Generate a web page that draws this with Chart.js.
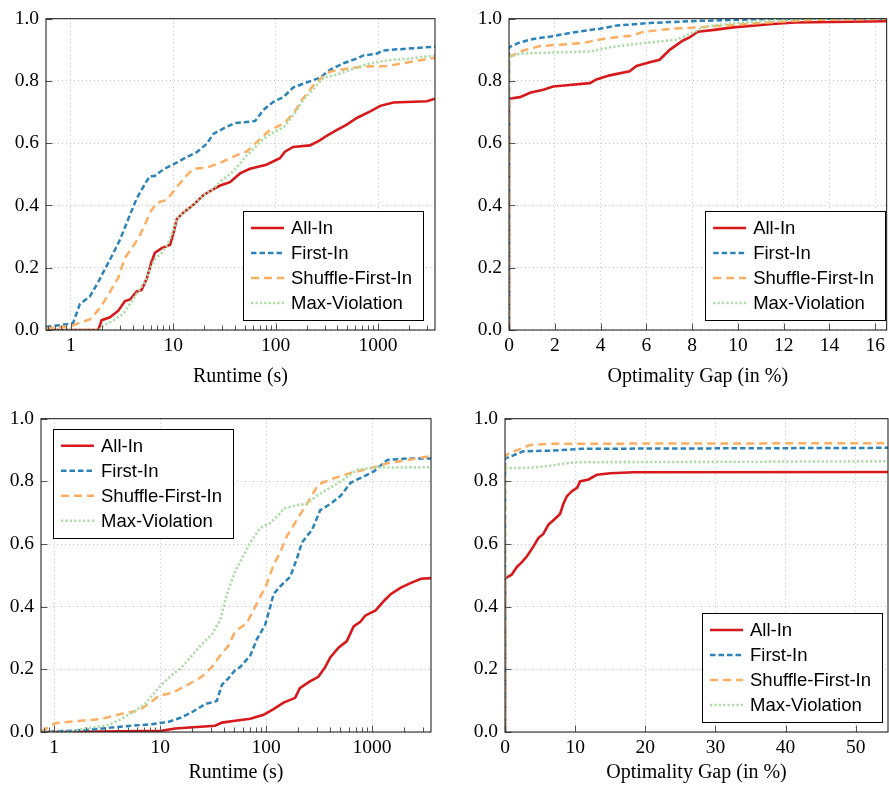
<!DOCTYPE html>
<html lang="en">
  <head>
    <meta charset="UTF-8" />
    <title>Runtime and optimality gap profiles</title>
    <script src="https://cdn.jsdelivr.net/npm/chart.js@4.4.0/dist/chart.umd.min.js"></script>
    <style>
      body {
        margin: 0;
        background: #fff;
      }
      #wrap {
        position: relative;
        width: 889px;
        height: 796px;
      }
      canvas {
        position: absolute;
      }
    </style>
  </head>
  <body>
    <div id="wrap">
      <canvas id="tl" width="445" height="400" style="left:0;top:0"></canvas>
      <canvas id="tr" width="444" height="400" style="left:445px;top:0"></canvas>
      <canvas id="bl" width="445" height="396" style="left:0;top:400px"></canvas>
      <canvas id="br" width="444" height="396" style="left:445px;top:400px"></canvas>
    </div>

    <script>
      const seriesNames = ["All-In", "First-In", "Shuffle-First-In", "Max-Violation"];
      const logTickLabels = [1, 10, 100, 1000];
      const yTickLabels = [0, 0.2, 0.4, 0.6, 0.8, 1];

      // top left: runtime (s), log scale
      const tlAllIn = [[0.57,0],[1.85,0],[1.99,0.031],[2.4,0.041],[2.9,0.062],[3.37,0.093],[3.78,0.098],[4.39,0.124],[4.9,0.129],[5.5,0.165],[6.1,0.217],[6.6,0.248],[7.7,0.263],[9.3,0.274],[10,0.31],[10.8,0.356],[12.5,0.377],[15.7,0.402],[19.6,0.433],[23.7,0.449],[28.6,0.464],[35.8,0.475],[44.8,0.503],[56,0.518],[81,0.531],[110,0.552],[123,0.573],[148,0.588],[216,0.593],[270,0.609],[315,0.624],[393,0.642],[495,0.66],[620,0.681],[838,0.702],[1050,0.72],[1413,0.731],[3000,0.735],[3600,0.743]];
      const tlFirstIn = [[0.57,0.01],[1.0,0.02],[1.05,0.023],[1.22,0.083],[1.53,0.108],[1.85,0.155],[2.23,0.206],[2.5,0.237],[3.0,0.289],[3.37,0.33],[3.78,0.371],[4.39,0.423],[5.3,0.47],[5.9,0.494],[6.6,0.495],[7.98,0.516],[10,0.532],[13.4,0.555],[16.9,0.571],[21.2,0.598],[24.6,0.63],[32,0.65],[40,0.665],[62.9,0.671],[75.8,0.707],[95,0.733],[119,0.748],[148,0.779],[200,0.795],[270,0.81],[340,0.836],[460,0.857],[620,0.872],[720,0.882],[980,0.888],[1120,0.898],[1770,0.903],[3600,0.91]];
      const tlShuffle = [[0.57,0.005],[1.0,0.012],[1.22,0.024],[1.53,0.034],[1.92,0.07],[2.4,0.122],[2.9,0.168],[3.37,0.232],[3.92,0.263],[4.54,0.294],[5.3,0.34],[5.9,0.377],[6.87,0.408],[8.6,0.418],[10.8,0.459],[13.4,0.495],[15.7,0.518],[21,0.521],[28.6,0.537],[41.7,0.562],[52,0.573],[70.5,0.614],[84.9,0.638],[123,0.666],[154,0.702],[179,0.738],[233,0.785],[280,0.81],[340,0.83],[530,0.841],[720,0.846],[1220,0.848],[1770,0.857],[3600,0.875]];
      const tlMaxViol = [[0.57,0],[1.9,0],[1.99,0.01],[2.59,0.031],[3.24,0.052],[3.92,0.093],[4.54,0.124],[5.3,0.155],[5.9,0.196],[6.6,0.227],[7.7,0.248],[8.9,0.279],[10,0.32],[10.8,0.356],[12.5,0.377],[15.7,0.402],[19.6,0.433],[24.6,0.454],[29.6,0.48],[37,0.505],[45,0.535],[52,0.56],[75.8,0.614],[95,0.635],[119,0.65],[154,0.697],[185,0.738],[233,0.774],[292,0.81],[393,0.82],[530,0.836],[838,0.857],[1310,0.867],[2060,0.872],[3600,0.882]];

      // top right: optimality gap (in %)
      const trAllIn = [[0,0],[0,0.743],[0.48,0.748],[0.92,0.762],[1.5,0.772],[1.93,0.782],[2.52,0.786],[3.53,0.793],[3.82,0.805],[4.4,0.818],[5.27,0.831],[5.57,0.848],[6.15,0.86],[6.58,0.868],[7.02,0.9],[7.31,0.915],[7.6,0.93],[7.89,0.94],[8.25,0.958],[9.05,0.965],[9.78,0.972],[11.5,0.983],[12.5,0.988],[16.5,0.992]];
      const trFirstIn = [[0,0],[0,0.908],[0.48,0.924],[1.06,0.935],[1.93,0.944],[2.8,0.956],[3.97,0.968],[4.7,0.978],[6.15,0.986],[8.3,0.993],[9.8,0.996],[11.4,1],[16.5,1]];
      const trShuffle = [[0,0],[0,0.877],[0.62,0.898],[1.35,0.912],[3.24,0.922],[4.26,0.937],[5.42,0.946],[5.86,0.958],[7.16,0.968],[8.3,0.972],[9.78,0.98],[11.8,0.99],[13.2,0.996],[16.5,1]];
      const trMaxViol = [[0,0],[0,0.877],[0.48,0.888],[1.79,0.891],[3.53,0.895],[4.4,0.908],[5.42,0.918],[6.44,0.926],[7.31,0.933],[8.03,0.955],[8.6,0.975],[9.78,0.985],[11.2,0.993],[13.2,1],[16.5,1]];

      // bottom left: runtime (s), log scale
      const blAllIn = [[0.75,0],[1.69,0.001],[10.3,0.004],[13.8,0.011],[33,0.02],[38.3,0.03],[51,0.036],[70.9,0.042],[94.5,0.055],[117.5,0.073],[146,0.094],[188,0.109],[208,0.14],[257,0.161],[311,0.176],[361,0.207],[403,0.238],[482,0.269],[578,0.29],[670,0.337],[775,0.352],[867,0.372],[1080,0.388],[1300,0.419],[1500,0.44],[1850,0.46],[2330,0.476],[2900,0.489],[3600,0.491]];
      const blFirstIn = [[0.75,0],[1.95,0.006],[2.8,0.011],[5,0.019],[8.3,0.025],[11.9,0.032],[16,0.047],[19.9,0.063],[26.6,0.089],[34.2,0.099],[38.3,0.151],[44,0.171],[51,0.197],[56.8,0.207],[70.9,0.244],[81.5,0.295],[97.9,0.342],[109,0.398],[117.5,0.44],[136,0.465],[169,0.496],[195,0.553],[218,0.605],[272,0.646],[324,0.708],[404,0.728],[505,0.754],[630,0.796],[783,0.811],[1040,0.832],[1390,0.868],[2140,0.873],[3600,0.873]];
      const blShuffle = [[0.75,0.001],[1.015,0.028],[1.69,0.035],[2.8,0.042],[4.33,0.058],[6.22,0.068],[7.74,0.089],[9.64,0.115],[12.9,0.125],[17.2,0.146],[24.6,0.176],[30.7,0.207],[36.8,0.244],[44,0.275],[51,0.321],[65.6,0.347],[81.5,0.409],[101,0.471],[117.5,0.533],[136,0.574],[157,0.625],[195,0.677],[242,0.728],[311,0.79],[403,0.806],[630,0.827],[970,0.842],[1390,0.858],[2140,0.868],[3600,0.881]];
      const blMaxViol = [[0.75,0],[1.36,0],[1.95,0.011],[3.24,0.022],[4.33,0.042],[5.8,0.068],[7.2,0.089],[8.3,0.115],[10.3,0.151],[12.9,0.182],[16,0.207],[19.9,0.244],[24.6,0.28],[30.7,0.311],[36.8,0.357],[41,0.419],[45.7,0.47],[51,0.512],[56.8,0.543],[70.9,0.605],[88,0.651],[109,0.667],[136,0.698],[146,0.713],[195,0.724],[242,0.728],[300,0.754],[403,0.78],[540,0.806],[720,0.837],[1040,0.844],[3600,0.845]];

      // bottom right: optimality gap (in %)
      const brAllIn = [[0,0],[0,0.49],[0.95,0.502],[1.67,0.526],[2.4,0.542],[3.1,0.56],[4.0,0.59],[4.75,0.619],[5.46,0.632],[6.2,0.662],[7.1,0.68],[7.85,0.696],[8.3,0.727],[8.8,0.752],[9.5,0.768],[10.3,0.78],[10.7,0.8],[11.9,0.806],[13.1,0.821],[15,0.826],[18.3,0.829],[54.6,0.83]];
      const brFirstIn = [[0,0],[0,0.873],[1.19,0.883],[2.6,0.896],[6.4,0.898],[11.2,0.904],[54.6,0.907]];
      const brShuffle = [[0,0],[0,0.883],[1.67,0.899],[3.57,0.916],[6.4,0.92],[54.6,0.922]];
      const brMaxViol = [[0,0],[0,0.842],[4.0,0.844],[6.4,0.85],[8.8,0.858],[10.2,0.861],[54.6,0.864]];

      const colors = ["#d7191c", "#2b83ba", "#fdae61", "#abdda4"];
      const dashes = [[], [5.5, 3], [8, 5], [2.2, 2.2]];
      const widths = [2.6, 2.5, 2.5, 2.6];

      const serif = '"Liberation Serif", "Times New Roman", serif';
      Chart.defaults.font.family = serif;
      Chart.defaults.color = "#000";

      // box, inner tick marks and the boxed legend
      const framePlugin = {
        id: "frame",
        afterDraw(chart, args, opts) {
          const { ctx, chartArea: a } = chart;
          const x = chart.scales.x;
          const y = chart.scales.y;
          ctx.save();
          ctx.strokeStyle = "#555";
          ctx.lineWidth = 1;
          x.ticks.forEach((t) => {
            const px = Math.round(x.getPixelForValue(t.value)) + 0.5;
            const len = t.label === "" ? 4.5 : 6.5;
            ctx.beginPath();
            ctx.moveTo(px, a.bottom);
            ctx.lineTo(px, a.bottom - len);
            ctx.stroke();
          });
          y.ticks.forEach((t) => {
            const py = Math.round(y.getPixelForValue(t.value)) + 0.5;
            ctx.beginPath();
            ctx.moveTo(a.left, py);
            ctx.lineTo(a.left + 6.5, py);
            ctx.stroke();
          });

          ctx.strokeStyle = "#111";
          ctx.strokeRect(a.left, a.top, a.right - a.left, a.bottom - a.top);

          // legend
          const w = 180, h = 109;
          const lx = opts.corner[1] === "r" ? a.right - opts.dx - w : a.left + opts.dx;
          const ly = opts.corner[0] === "b" ? a.bottom - opts.dy - h : a.top + opts.dy;
          ctx.fillStyle = "#fff";
          ctx.fillRect(lx, ly, w, h);
          ctx.strokeStyle = "#000";
          ctx.lineWidth = 1;
          ctx.strokeRect(Math.round(lx) + 0.5, Math.round(ly) + 0.5, w, h);
          ctx.font = '18.5px "Liberation Sans", Arial, sans-serif';
          ctx.textBaseline = "middle";
          chart.data.datasets.forEach((ds, i) => {
            const cy = ly + 17 + 25 * i;
            ctx.save();
            ctx.strokeStyle = ds.borderColor;
            ctx.lineWidth = ds.borderWidth;
            ctx.setLineDash(ds.borderDash);
            ctx.beginPath();
            ctx.moveTo(lx + 8, cy);
            ctx.lineTo(lx + 41, cy);
            ctx.stroke();
            ctx.restore();
            ctx.fillStyle = "#000";
            ctx.fillText(ds.label, lx + 48, cy + 1);
          });
          ctx.restore();
        },
      };

      function logTicks(min, max) {
        const out = [];
        for (let e = -1; e <= 3; e++) {
          for (let k = 1; k <= 9; k++) {
            const v = k * Math.pow(10, e);
            if (v >= min && v <= max) out.push({ value: v });
          }
        }
        return out;
      }

      function isLabelled(v) {
        return logTickLabels.some((t) => Math.abs(t - v) < 1e-9);
      }

      function makeChart(id, cfg) {
        const xScale = {
          type: cfg.log ? "logarithmic" : "linear",
          min: cfg.xMin,
          max: cfg.xMax,
          ticks: {
            autoSkip: false,
            maxRotation: 0,
            padding: 4,
            font: { size: 19.5 },
            color: "#000",
          },
          grid: {
            drawTicks: false,
            lineWidth: 1,
            color: "#c4c4c4",
          },
          border: { display: false, dash: [1, 3] },
          title: {
            display: true,
            text: cfg.title,
            font: { size: 20 },
            color: "#000",
            padding: { top: 0, bottom: 11 },
          },
          afterFit: (s) => {
            s.height = cfg.h - cfg.area.bottom;
          },
        };
        if (cfg.log) {
          xScale.afterBuildTicks = (s) => {
            s.ticks = logTicks(cfg.xMin, cfg.xMax);
          };
          xScale.ticks.callback = (v) => (isLabelled(v) ? String(v) : "");
          xScale.grid.color = (c) =>
            c.tick && isLabelled(c.tick.value) ? "#c4c4c4" : "rgba(0,0,0,0)";
        } else {
          xScale.ticks.stepSize = cfg.step;
          xScale.ticks.includeBounds = false;
        }

        return new Chart(document.getElementById(id), {
          type: "line",
          data: {
            datasets: cfg.series.map((pts, i) => ({
              label: seriesNames[i],
              data: pts.map(([x, y]) => ({ x, y })),
              borderColor: colors[i],
              borderDash: dashes[i],
              borderWidth: widths[i],
              pointRadius: 0,
              fill: false,
              tension: 0,
              order: 4 - i,
            })),
          },
          options: {
            responsive: false,
            animation: false,
            events: [],
            layout: {
              autoPadding: false,
              padding: { left: 0, top: cfg.area.top, right: cfg.w - cfg.area.right, bottom: 0 },
            },
            plugins: {
              legend: { display: false },
              tooltip: { enabled: false },
              frame: cfg.legend,
            },
            scales: {
              x: xScale,
              y: {
                type: "linear",
                min: 0,
                max: 1,
                afterBuildTicks: (s) => {
                  s.ticks = yTickLabels.map((v) => ({ value: v }));
                },
                ticks: {
                  padding: 7,
                  font: { size: 19.5 },
                  color: "#000",
                  callback: (v) => v.toFixed(1),
                },
                grid: { drawTicks: false, lineWidth: 1, color: "#c4c4c4" },
                border: { display: false, dash: [1, 3] },
                afterFit: (s) => {
                  s.width = cfg.area.left;
                },
              },
            },
          },
          plugins: [framePlugin],
        });
      }

      makeChart("tl", {
        w: 445, h: 400, area: { left: 46, right: 435, top: 7, bottom: 330 },
        log: true, xMin: 0.57, xMax: 3600, title: "Runtime (s)",
        series: [tlAllIn, tlFirstIn, tlShuffle, tlMaxViol],
        legend: { corner: "br", dx: 12, dy: 10 },
      });
      makeChart("tr", {
        w: 444, h: 400, area: { left: 64, right: 443, top: 7, bottom: 330 },
        log: false, xMin: 0, xMax: 16.5, step: 2, title: "Optimality Gap (in %)",
        series: [trAllIn, trFirstIn, trShuffle, trMaxViol],
        legend: { corner: "br", dx: 1.5, dy: 10 },
      });
      makeChart("bl", {
        w: 445, h: 396, area: { left: 41, right: 431, top: 9, bottom: 332 },
        log: true, xMin: 0.75, xMax: 3600, title: "Runtime (s)",
        series: [blAllIn, blFirstIn, blShuffle, blMaxViol],
        legend: { corner: "tl", dx: 12, dy: 10 },
      });
      makeChart("br", {
        w: 444, h: 396, area: { left: 60, right: 443, top: 9, bottom: 332 },
        log: false, xMin: 0, xMax: 54.6, step: 10, title: "Optimality Gap (in %)",
        series: [brAllIn, brFirstIn, brShuffle, brMaxViol],
        legend: { corner: "br", dx: 6, dy: 10 },
      });
    </script>
  </body>
</html>
